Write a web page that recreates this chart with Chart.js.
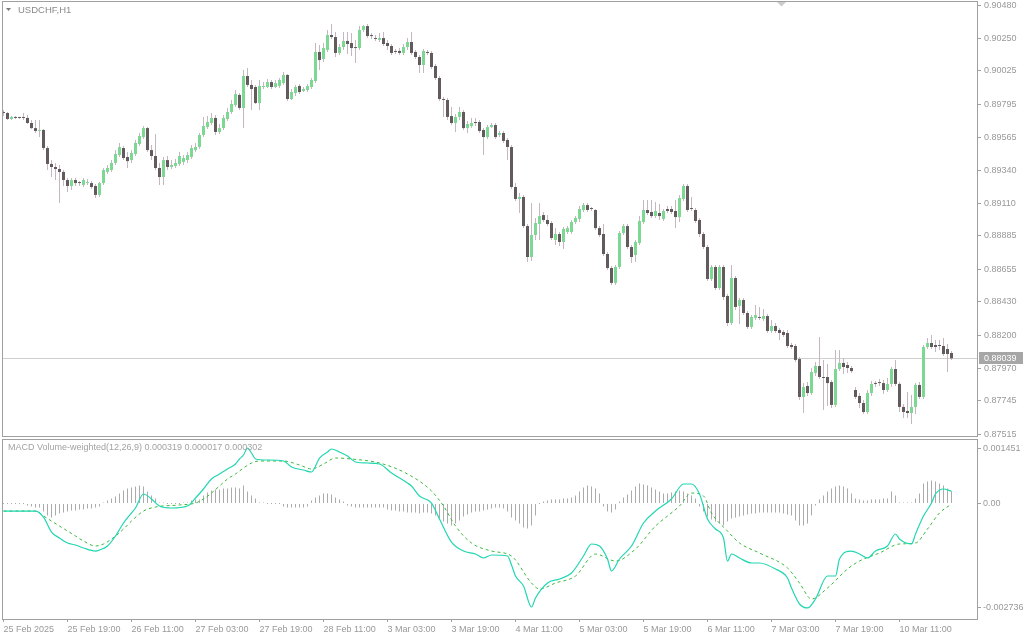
<!DOCTYPE html>
<html>
<head>
<meta charset="utf-8">
<script src="https://cdn.jsdelivr.net/npm/chart.js@4.4.1/dist/chart.umd.min.js"></script>
<style>
  body { margin: 0; background: #fff; width: 1024px; height: 640px; overflow: hidden; position: relative; }
  #price { position: absolute; left: 0; top: 0; }
  #macd { position: absolute; left: 0; top: 437px; }
</style>
</head>
<body>
<canvas id="price" width="1024" height="437" style="width:1024px;height:437px"></canvas>
<canvas id="macd" width="1024" height="203" style="width:1024px;height:203px"></canvas>
<script>
// ==== data (USDCHF H1, bar 0 = 25 Feb 03:00) ====
const opens = [
  0.89741,0.89734,0.89693,0.89707,0.89700,0.89700,0.89700,0.89665,0.89630,0.89610,
  0.89617,0.89492,0.89382,0.89361,0.89347,0.89327,0.89271,0.89230,0.89271,0.89250,
  0.89237,0.89250,0.89250,0.89230,0.89168,0.89250,0.89327,0.89340,0.89389,0.89444,
  0.89492,0.89430,0.89409,0.89451,0.89520,0.89568,0.89630,0.89478,0.89437,0.89354,
  0.89292,0.89409,0.89361,0.89368,0.89382,0.89396,0.89409,0.89430,0.89478,0.89499,
  0.89582,0.89637,0.89665,0.89700,0.89603,0.89630,0.89693,0.89741,0.89789,0.89859,
  0.89769,0.89990,0.89928,0.89914,0.89803,0.89914,0.89914,0.89948,0.89914,0.89921,
  0.89941,0.89997,0.89831,0.89872,0.89921,0.89886,0.89893,0.89914,0.89955,0.90156,
  0.90107,0.90170,0.90273,0.90259,0.90149,0.90190,0.90232,0.90218,0.90183,0.90183,
  0.90308,0.90335,0.90266,0.90246,0.90239,0.90252,0.90218,0.90197,0.90156,0.90163,
  0.90149,0.90190,0.90225,0.90156,0.90121,0.90066,0.90156,0.90149,0.90059,0.89976,
  0.89824,0.89824,0.89713,0.89665,0.89707,0.89741,0.89630,0.89644,0.89665,0.89672,
  0.89617,0.89568,0.89637,0.89651,0.89582,0.89596,0.89548,0.89499,0.89223,0.89140,
  0.89154,0.88953,0.88739,0.88891,0.88967,0.89029,0.88995,0.88974,0.88857,0.88898,
  0.88843,0.88912,0.88912,0.88981,0.89002,0.89064,0.89098,0.89071,0.89064,0.88939,
  0.88898,0.88760,0.88663,0.88560,0.88670,0.88905,0.88953,0.88808,0.88753,0.88836,
  0.88981,0.89064,0.89050,0.89022,0.89043,0.89002,0.89071,0.89071,0.89057,0.89015,
  0.89140,0.89230,0.89071,0.89064,0.88995,0.88898,0.88808,0.88587,0.88670,0.88525,
  0.88670,0.88470,0.88283,0.88594,0.88401,0.88442,0.88352,0.88256,0.88318,0.88318,
  0.88311,0.88331,0.88228,0.88262,0.88235,0.88221,0.88214,0.88131,0.88124,0.88034,
  0.87772,0.87848,0.87799,0.87938,0.87986,0.87910,0.87910,0.87875,0.87717,0.87965,
  0.88007,0.87993,0.87972,0.87820,0.87779,0.87730,0.87668,0.87799,0.87862,0.87868,
  0.87868,0.87820,0.87862,0.87965,0.87862,0.87703,0.87675,0.87661,0.87703,0.87855,
  0.87772,0.88117,0.88145,0.88131,0.88124,0.88124,0.88103,0.88076
];
const closes = [
  0.89734,0.89693,0.89707,0.89700,0.89700,0.89700,0.89665,0.89630,0.89610,0.89617,
  0.89492,0.89382,0.89361,0.89347,0.89327,0.89271,0.89230,0.89271,0.89250,0.89250,
  0.89271,0.89257,0.89223,0.89168,0.89250,0.89340,0.89354,0.89389,0.89451,0.89499,
  0.89423,0.89402,0.89458,0.89527,0.89575,0.89630,0.89478,0.89437,0.89354,0.89292,
  0.89409,0.89361,0.89375,0.89389,0.89437,0.89423,0.89444,0.89492,0.89499,0.89582,
  0.89644,0.89672,0.89700,0.89603,0.89630,0.89700,0.89741,0.89796,0.89865,0.89769,
  0.89990,0.89928,0.89900,0.89803,0.89921,0.89921,0.89948,0.89914,0.89941,0.89962,
  0.89997,0.89831,0.89879,0.89914,0.89879,0.89900,0.89921,0.89962,0.90156,0.90100,
  0.90183,0.90273,0.90259,0.90149,0.90190,0.90232,0.90211,0.90183,0.90183,0.90308,
  0.90335,0.90266,0.90266,0.90246,0.90252,0.90211,0.90197,0.90149,0.90156,0.90149,
  0.90190,0.90225,0.90149,0.90121,0.90066,0.90163,0.90149,0.90052,0.89976,0.89831,
  0.89824,0.89707,0.89665,0.89707,0.89741,0.89630,0.89658,0.89665,0.89665,0.89610,
  0.89568,0.89637,0.89651,0.89568,0.89596,0.89541,0.89499,0.89223,0.89140,0.89154,
  0.88953,0.88739,0.88891,0.88974,0.89022,0.88995,0.88967,0.88870,0.88898,0.88843,
  0.88933,0.88939,0.88981,0.89009,0.89071,0.89098,0.89064,0.89071,0.88939,0.88891,
  0.88760,0.88663,0.88560,0.88670,0.88905,0.88953,0.88808,0.88739,0.88843,0.88988,
  0.89064,0.89043,0.89022,0.89057,0.89022,0.89057,0.89057,0.89050,0.89015,0.89147,
  0.89230,0.89064,0.89071,0.88988,0.88898,0.88808,0.88587,0.88670,0.88525,0.88670,
  0.88463,0.88283,0.88594,0.88394,0.88442,0.88352,0.88256,0.88324,0.88338,0.88318,
  0.88331,0.88228,0.88262,0.88228,0.88214,0.88200,0.88124,0.88117,0.88028,0.87772,
  0.87841,0.87799,0.87944,0.87986,0.87910,0.87903,0.87868,0.87717,0.87965,0.88007,
  0.87979,0.87972,0.87951,0.87772,0.87730,0.87668,0.87799,0.87862,0.87862,0.87868,
  0.87820,0.87862,0.87965,0.87862,0.87703,0.87668,0.87661,0.87703,0.87855,0.87772,
  0.88117,0.88145,0.88117,0.88117,0.88124,0.88069,0.88069,0.88039
];
const highs = [
  0.89755,0.89741,0.89713,0.89713,0.89707,0.89734,0.89720,0.89686,0.89686,0.89686,
  0.89624,0.89506,0.89409,0.89389,0.89375,0.89340,0.89285,0.89285,0.89285,0.89264,
  0.89285,0.89278,0.89264,0.89244,0.89257,0.89354,0.89375,0.89409,0.89478,0.89527,
  0.89506,0.89465,0.89478,0.89548,0.89596,0.89644,0.89637,0.89513,0.89589,0.89389,
  0.89430,0.89437,0.89409,0.89416,0.89465,0.89444,0.89465,0.89513,0.89527,0.89596,
  0.89707,0.89713,0.89734,0.89720,0.89658,0.89720,0.89769,0.89824,0.89893,0.89872,
  0.90031,0.90045,0.89962,0.89928,0.89962,0.89948,0.89969,0.89962,0.89962,0.89976,
  0.90018,0.90004,0.89900,0.89928,0.89935,0.89914,0.89935,0.89976,0.90218,0.90204,
  0.90218,0.90308,0.90349,0.90294,0.90211,0.90294,0.90294,0.90287,0.90239,0.90335,
  0.90342,0.90349,0.90287,0.90273,0.90287,0.90294,0.90239,0.90211,0.90176,0.90183,
  0.90211,0.90252,0.90294,0.90170,0.90135,0.90176,0.90170,0.90163,0.90073,0.89990,
  0.89845,0.89838,0.89776,0.89727,0.89776,0.89755,0.89679,0.89700,0.89700,0.89686,
  0.89630,0.89651,0.89665,0.89665,0.89610,0.89610,0.89561,0.89513,0.89250,0.89181,
  0.89168,0.88967,0.89112,0.89009,0.89112,0.89050,0.89029,0.88988,0.88939,0.88912,
  0.88946,0.88953,0.88995,0.89022,0.89092,0.89112,0.89112,0.89085,0.89071,0.88953,
  0.88967,0.88774,0.88677,0.88684,0.88919,0.88967,0.88967,0.88822,0.88857,0.89022,
  0.89133,0.89133,0.89133,0.89119,0.89105,0.89071,0.89092,0.89092,0.89133,0.89168,
  0.89244,0.89244,0.89154,0.89078,0.89009,0.88912,0.88822,0.88684,0.88684,0.88684,
  0.88684,0.88484,0.88684,0.88608,0.88456,0.88456,0.88366,0.88338,0.88407,0.88394,
  0.88380,0.88345,0.88304,0.88283,0.88249,0.88235,0.88235,0.88145,0.88138,0.88048,
  0.87868,0.87875,0.87972,0.88014,0.88186,0.88028,0.88000,0.87889,0.88097,0.88097,
  0.88041,0.88014,0.87986,0.87841,0.87799,0.87751,0.87820,0.87882,0.87882,0.87896,
  0.87889,0.87903,0.87979,0.88028,0.87875,0.87723,0.87806,0.87786,0.87868,0.87875,
  0.88131,0.88179,0.88200,0.88166,0.88166,0.88179,0.88138,0.88090
];
const lows = [
  0.89713,0.89686,0.89686,0.89693,0.89693,0.89686,0.89658,0.89624,0.89596,0.89568,
  0.89478,0.89340,0.89292,0.89271,0.89112,0.89230,0.89188,0.89202,0.89230,0.89230,
  0.89223,0.89237,0.89209,0.89147,0.89154,0.89237,0.89313,0.89327,0.89375,0.89430,
  0.89409,0.89354,0.89389,0.89437,0.89506,0.89554,0.89465,0.89409,0.89340,0.89237,
  0.89237,0.89340,0.89347,0.89354,0.89368,0.89375,0.89389,0.89416,0.89465,0.89485,
  0.89568,0.89624,0.89651,0.89582,0.89589,0.89617,0.89679,0.89727,0.89776,0.89755,
  0.89630,0.89914,0.89755,0.89796,0.89755,0.89900,0.89907,0.89900,0.89907,0.89907,
  0.89928,0.89817,0.89824,0.89852,0.89865,0.89879,0.89879,0.89900,0.89941,0.90031,
  0.90087,0.90156,0.90246,0.90121,0.90135,0.90170,0.90142,0.90128,0.90080,0.90170,
  0.90294,0.90252,0.90246,0.90232,0.90225,0.90197,0.90170,0.90135,0.90142,0.90135,
  0.90135,0.90170,0.90135,0.90107,0.90011,0.90011,0.90135,0.90038,0.89962,0.89817,
  0.89707,0.89686,0.89651,0.89603,0.89686,0.89617,0.89596,0.89630,0.89644,0.89596,
  0.89444,0.89554,0.89630,0.89554,0.89568,0.89527,0.89409,0.89209,0.89126,0.89043,
  0.88939,0.88705,0.88712,0.88857,0.88857,0.88981,0.88953,0.88857,0.88822,0.88815,
  0.88794,0.88898,0.88898,0.88967,0.88981,0.89050,0.89050,0.89057,0.88926,0.88877,
  0.88746,0.88649,0.88546,0.88546,0.88656,0.88891,0.88794,0.88698,0.88705,0.88822,
  0.88967,0.89029,0.89009,0.89009,0.88995,0.88988,0.89043,0.89036,0.88939,0.88981,
  0.89126,0.89050,0.89057,0.88974,0.88877,0.88794,0.88573,0.88573,0.88511,0.88511,
  0.88442,0.88262,0.88269,0.88373,0.88276,0.88338,0.88242,0.88242,0.88304,0.88304,
  0.88297,0.88214,0.88214,0.88214,0.88166,0.88186,0.88110,0.88103,0.88014,0.87751,
  0.87661,0.87779,0.87786,0.87917,0.87896,0.87682,0.87710,0.87696,0.87703,0.87951,
  0.87931,0.87938,0.87938,0.87758,0.87696,0.87654,0.87654,0.87779,0.87841,0.87848,
  0.87792,0.87806,0.87841,0.87848,0.87668,0.87627,0.87627,0.87585,0.87654,0.87758,
  0.87758,0.88103,0.88103,0.88083,0.88097,0.88055,0.87944,0.88028
];
const lastPrice = 0.88039;
const priceTicks = [0.90480, 0.90250, 0.90025, 0.89795, 0.89565, 0.89340, 0.89110,
  0.88885, 0.88655, 0.88430, 0.88200, 0.87970, 0.87745, 0.87515];

// MACD pane
const histVals = [
  0,0,0,0,0,0,
  -0.000052,-0.000079,-0.000105,-0.000105,
  -0.00021,-0.000314,-0.000367,-0.000314,
  -0.000262,-0.000236,-0.00021,-0.000183,-0.000183,-0.000157,-0.000157,-0.000131,-0.000131,-0.000105,-0.000079,
  0.000026,
  0.000079,0.000131,0.000183,
  0.000262,0.000341,0.000393,0.000419,0.000445,0.000472,0.000445,
  0.000314,0.00021,0.000131,
  0.000026,0.000026,0,0,0,0,0.000026,0.000026,
  0.000079,0.000105,0.000105,
  0.00021,0.000288,0.000341,0.000367,0.000367,0.000393,0.000393,0.000419,0.000419,0.000393,0.000472,
  0.000314,0.00021,0.000131,
  0.000026,0.000026,0,0,0,0,
  -0.000079,-0.000105,-0.000105,-0.000105,-0.000105,-0.000105,-0.000079,
  0.000079,0.000157,0.00021,0.000262,0.000262,0.000236,0.000157,0.000105,0.000052,
  -0.000052,-0.000079,-0.000105,-0.000105,-0.000105,-0.000105,-0.000105,-0.000105,-0.000105,-0.000105,
  -0.000157,-0.000183,-0.000183,-0.00021,-0.00021,-0.000236,-0.000236,-0.000236,
  -0.000262,-0.000236,-0.000236,-0.000262,-0.000314,
  -0.000393,-0.000472,-0.000524,-0.000576,-0.000524,-0.000445,
  -0.000341,-0.000288,-0.000236,-0.00021,-0.00021,-0.000183,-0.000157,-0.000131,-0.000105,-0.000105,-0.000131,-0.00021,
  -0.000367,-0.000445,-0.000524,-0.000629,-0.000655,-0.000576,-0.000314,
  0,
  0.000052,0.000079,0.000105,0.000105,0.000105,0.000131,0.000131,0.000157,0.00021,
  0.000314,0.000419,0.000472,0.000445,0.000393,0.000262,
  -0.000079,-0.00021,-0.000236,-0.000157,
  0.000052,0.000157,0.000236,0.000341,0.000445,0.000524,0.000498,0.000472,0.000419,0.000367,0.000314,0.000262,
  0.000262,0.000288,0.000314,0.000341,0.000314,0.000262,0.00021,
  0.000131,-0.000079,-0.00021,-0.000341,-0.000419,-0.000472,-0.000524,-0.000576,
  -0.000472,-0.000393,-0.000367,-0.000341,-0.000314,-0.000288,-0.000262,-0.000262,-0.000236,-0.000236,-0.000236,-0.000236,-0.000236,-0.000236,-0.000262,-0.000288,-0.000314,
  -0.000445,-0.000576,-0.000576,-0.000524,-0.000314,
  -0.000052,0.000105,0.00021,0.000314,0.000393,0.000445,0.000472,0.000445,0.000393,0.000262,
  0.000131,0.000105,0.000079,0.000079,0.000105,0.000105,0.000105,0.000131,0.000131,
  0.000314,0.00021,
  0.000026,0.000026,0.000026,0.000026,
  0.000131,0.000262,
  0.000524,0.000576,0.000603,0.000576,0.000524,0.000472,0.000393,0.000314
];
const macdBars = [0,8,10,12,14,16,18,20,23,24,26,28,30,32,33,35,37,39,42,46,48,50,52,54,56,58,59,60,61,62,63,66,70,72,75,77,79,81,82,84,86,88,91,94,97,101,102,104,107,109,112,115,118,120,122,126,127,128,130,132,133,136,139,142,145,147,149,151,152,154,157,160,163,167,170,172,174,176,178,180,181,182,184,187,189,193,196,197,199,201,203,206,208,209,212,214,216,218,221,223,224,227,228,230,232,233,235,237];
const macdVals = [
  -0.000197,-0.000197,-0.000354,-0.000747,-0.000904,-0.001035,-0.001087,-0.001166,-0.001245,-0.001218,
  -0.001114,-0.000852,-0.000511,-0.000249,-0.000118,0.000249,0.000118,-0.000066,-0.000118,-0.000066,
  0.000144,0.000380,0.000642,0.000773,0.000904,0.001035,0.001166,0.001271,0.001451,0.001323,
  0.001166,0.001140,0.001114,0.000956,0.000878,0.000825,0.001192,0.001349,0.001428,0.001349,
  0.001245,0.001087,0.001061,0.001035,0.000799,0.000537,0.000459,0.000197,0.000013,-0.000406,
  -0.001009,-0.001245,-0.001323,-0.001428,-0.001349,-0.001376,-0.001611,-0.001900,-0.002162,-0.002712,
  -0.002476,-0.002083,-0.001978,-0.001821,-0.001376,-0.001061,-0.001114,-0.001454,-0.001769,-0.001454,
  -0.001114,-0.000511,-0.000197,0.000118,0.000511,0.000511,0.000249,-0.000406,-0.000668,-0.000904,
  -0.001507,-0.001323,-0.001428,-0.001559,-0.001559,-0.001716,-0.001952,-0.002214,-0.002633,-0.002736,
  -0.002502,-0.001900,-0.001900,-0.001454,-0.001245,-0.001323,-0.001428,-0.001245,-0.001114,-0.000799,
  -0.000930,-0.001061,-0.000799,-0.000328,0.000013,0.000249,0.000380,0.000319
];
const signalBars = [0,8,10,12,14,16,18,20,23,25,28,30,32,35,38,44,48,50,52,54,56,58,60,62,64,70,74,77,80,83,87,94,101,107,110,113,117,122,127,132,134,138,143,148,153,158,163,166,169,172,175,177,181,184,189,196,199,202,206,211,214,219,224,228,231,234,237];
const signalVals = [
  -0.000197,-0.000197,-0.000328,-0.000459,-0.000590,-0.000721,-0.000852,-0.000983,-0.001114,-0.001061,
  -0.000852,-0.000668,-0.000459,-0.000197,-0.000092,-0.000039,0.000013,0.000118,0.000275,0.000459,
  0.000642,0.000773,0.000930,0.001061,0.001114,0.001114,0.001009,0.000904,0.001035,0.001192,
  0.001166,0.001061,0.000773,0.000328,-0.000066,-0.000590,-0.001035,-0.001245,-0.001376,-0.002083,
  -0.002240,-0.002083,-0.001900,-0.001323,-0.001507,-0.001192,-0.000590,-0.000328,-0.000066,0.000275,
  0.000197,-0.000249,-0.000721,-0.001035,-0.001297,-0.001690,-0.002083,-0.002502,-0.002214,-0.001716,
  -0.001507,-0.001297,-0.001061,-0.001035,-0.000668,-0.000249,-0.000013
];
const macdTicks = [0.001451, 0, -0.002736];
const macdTickLabels = ['0.001451', '0.00', '-0.002736'];
const macdTitle = 'MACD Volume-weighted(12,26,9) 0.000319 0.000017 0.000302';

const timeBars = [0, 16, 32, 48, 64, 80, 96, 112, 128, 144, 160, 176, 192, 208, 224];
const timeLabels = ['25 Feb 2025', '25 Feb 19:00', '26 Feb 11:00', '27 Feb 03:00', '27 Feb 19:00',
  '28 Feb 11:00', '3 Mar 03:00', '3 Mar 19:00', '4 Mar 11:00', '5 Mar 03:00', '5 Mar 19:00',
  '6 Mar 11:00', '7 Mar 03:00', '7 Mar 19:00', '10 Mar 11:00'];

// ==== styles ====
const FONT = "'Liberation Sans', Arial, sans-serif";
const TEXT = '#999999';
const FRAME = '#a0a0a0';
const BULL = '#7dd894';
const BEAR = '#625a5d';
const WICK = '#c4b8be';

Chart.defaults.font.family = FONT;
Chart.defaults.font.size = 9;
Chart.defaults.color = TEXT;

const xRange = { min: -0.125, max: 243.375 };   // 4 px per bar

// scales must not push the plot area in for their edge labels
function noEdgePadding(s) {
  s.paddingTop = 0; s.paddingBottom = 0; s.paddingLeft = 0; s.paddingRight = 0;
}

// ==== 1. Price pane ====
const bodyColors = closes.map((c, i) => c > opens[i] ? BULL : BEAR);

const priceDecor = {
  id: 'priceDecor',
  beforeDatasetsDraw(chart) {
    const { ctx, chartArea: a, scales: { y } } = chart;
    const py = Math.round(y.getPixelForValue(lastPrice)) + 0.5;
    ctx.save();
    ctx.strokeStyle = '#cfcfcf';
    ctx.lineWidth = 1;
    ctx.beginPath();
    ctx.moveTo(a.left, py);
    ctx.lineTo(a.right, py);
    ctx.stroke();
    ctx.restore();
  },
  afterDraw(chart) {
    const { ctx, scales: { y } } = chart;
    ctx.save();
    ctx.strokeStyle = FRAME;
    ctx.lineWidth = 1;
    ctx.strokeRect(2.5, 1.5, 975, 435);

    // symbol header
    ctx.fillStyle = '#7a7a7a';
    ctx.beginPath();
    ctx.moveTo(6, 8); ctx.lineTo(11, 8); ctx.lineTo(8.5, 11); ctx.closePath();
    ctx.fill();
    ctx.fillStyle = '#8a8a8a';
    ctx.font = '9.5px ' + FONT;
    ctx.textBaseline = 'middle';
    ctx.fillText('USDCHF,H1', 18, 10);

    // chart shift marker
    ctx.fillStyle = '#cccccc';
    ctx.beginPath();
    ctx.moveTo(777, 2); ctx.lineTo(786, 2); ctx.lineTo(781.5, 6.5); ctx.closePath();
    ctx.fill();

    // last price tag
    const py = Math.round(y.getPixelForValue(lastPrice));
    ctx.fillStyle = '#a6a6a6';
    ctx.fillRect(979, py - 6, 44, 12);
    ctx.fillStyle = '#ffffff';
    ctx.font = '9px ' + FONT;
    ctx.fillText(lastPrice.toFixed(5), 984, py + 0.5);
    ctx.restore();
  }
};

new Chart(document.getElementById('price'), {
  type: 'bar',
  data: {
    datasets: [
      {
        data: opens.map((o, i) => ({ x: i, y: [lows[i], highs[i]] })),
        backgroundColor: WICK,
        barThickness: 1,
        grouped: false,
        inflateAmount: 0,
        borderWidth: 0,
        order: 2
      },
      {
        data: opens.map((o, i) => ({ x: i, y: [Math.min(o, closes[i]), Math.max(o, closes[i])] })),
        backgroundColor: bodyColors,
        barThickness: 3,
        minBarLength: 1,
        grouped: false,
        inflateAmount: 0,
        borderWidth: 0,
        order: 1
      }
    ]
  },
  options: {
    responsive: false,
    animation: false,
    events: [],
    layout: { autoPadding: false, padding: { left: 3, top: 2, right: 0, bottom: 1 } },
    plugins: { legend: { display: false }, tooltip: { enabled: false } },
    scales: {
      x: { type: 'linear', display: false, offset: false, grid: { offset: false }, ...xRange },
      y: {
        position: 'right',
        min: 0.875022,
        max: 0.905012,
        afterBuildTicks: s => { s.ticks = priceTicks.map(v => ({ value: v })); },
        afterFit: s => { s.width = 47; noEdgePadding(s); },
        border: { display: false },
        grid: { drawOnChartArea: false, drawTicks: true, tickLength: 4, color: FRAME },
        ticks: { padding: 3, color: TEXT, font: { size: 9 }, callback: v => v.toFixed(5) }
      }
    }
  },
  plugins: [priceDecor]
});

// ==== 2. MACD pane ====
const macdDecor = {
  id: 'macdDecor',
  afterDraw(chart) {
    const { ctx } = chart;
    ctx.save();
    ctx.strokeStyle = FRAME;
    ctx.lineWidth = 1;
    ctx.strokeRect(2.5, 2.5, 975, 180);
    ctx.fillStyle = '#a2a2a2';
    ctx.font = '9px ' + FONT;
    ctx.textBaseline = 'middle';
    ctx.fillText(macdTitle, 8, 11);
    ctx.restore();
  }
};

new Chart(document.getElementById('macd'), {
  type: 'bar',
  data: {
    datasets: [
      {
        type: 'line',
        data: macdBars.map((b, i) => ({ x: b, y: macdVals[i] })),
        borderColor: '#22d6b2',
        borderWidth: 1.2,
        pointRadius: 0,
        cubicInterpolationMode: 'monotone',
        order: 1
      },
      {
        type: 'line',
        data: signalBars.map((b, i) => ({ x: b, y: signalVals[i] })),
        borderColor: '#3cb83c',
        borderWidth: 1,
        borderDash: [3, 3],
        pointRadius: 0,
        cubicInterpolationMode: 'monotone',
        order: 2
      },
      {
        data: histVals.map((v, i) => ({ x: i, y: v })),
        backgroundColor: '#ababab',
        barThickness: 1,
        minBarLength: 1,
        grouped: false,
        inflateAmount: 0,
        borderWidth: 0,
        order: 3
      }
    ]
  },
  options: {
    responsive: false,
    animation: false,
    events: [],
    layout: { autoPadding: false, padding: { left: 3, top: 3, right: 0, bottom: 0 } },
    plugins: { legend: { display: false }, tooltip: { enabled: false } },
    scales: {
      x: {
        type: 'linear', offset: false, ...xRange,
        afterBuildTicks: s => { s.ticks = timeBars.map(v => ({ value: v })); },
        afterFit: s => { s.height = 21; noEdgePadding(s); },
        border: { display: false },
        grid: { offset: false, drawOnChartArea: false, drawTicks: true, tickLength: 3, color: FRAME },
        ticks: {
          align: 'start', maxRotation: 0, autoSkip: false, padding: 2, color: TEXT,
          callback: v => timeLabels[timeBars.indexOf(v)]
        }
      },
      y: {
        position: 'right',
        min: -0.003026,
        max: 0.001664,
        afterBuildTicks: s => { s.ticks = macdTicks.map(v => ({ value: v })); },
        afterFit: s => { s.width = 47; noEdgePadding(s); },
        border: { display: false },
        grid: { drawOnChartArea: false, drawTicks: true, tickLength: 4, color: FRAME },
        ticks: { padding: 2, color: TEXT, callback: v => macdTickLabels[macdTicks.indexOf(v)] }
      }
    }
  },
  plugins: [macdDecor]
});
</script>
</body>
</html>
